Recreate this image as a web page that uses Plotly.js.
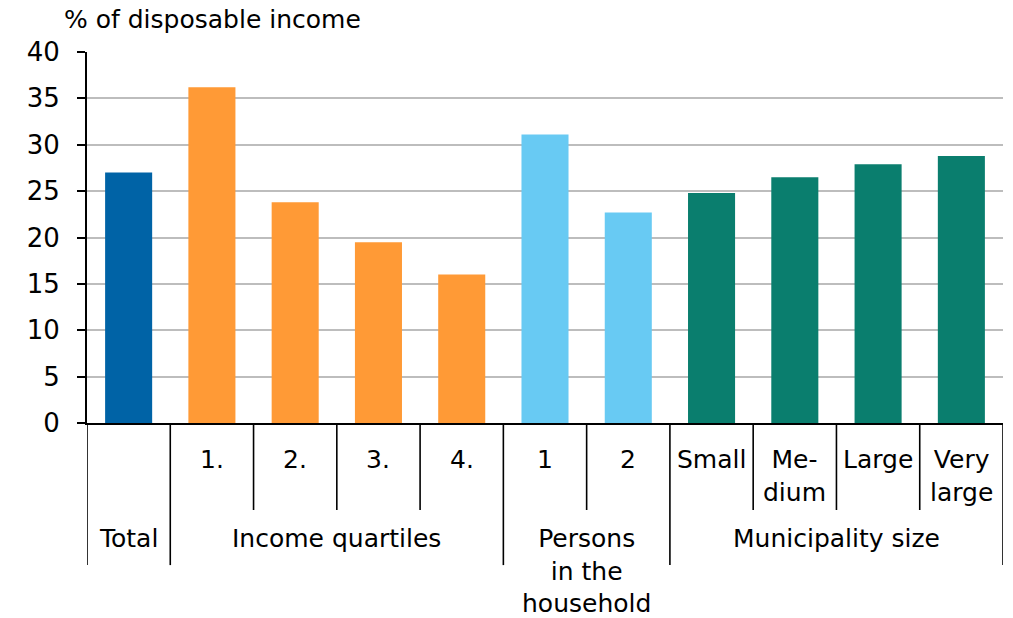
<!DOCTYPE html>
<html>
<head>
<meta charset="utf-8">
<script src="https://cdn.plot.ly/plotly-3.0.1.min.js"></script>
<style>html,body{margin:0;padding:0;background:#fff;}#chart{width:1013px;height:618px;}</style>
</head>
<body>
<div id="chart"></div>
<script>
// ---- data ----
const categories = ['Total', 'Q1', 'Q2', 'Q3', 'Q4', 'P1', 'P2', 'Small', 'Medium', 'Large', 'Very large'];
const tickLabels = ['', '1.', '2.', '3.', '4.', '1', '2', 'Small', 'Me-<br>dium', 'Large', 'Very<br>large'];
const values = [27.0, 36.2, 23.8, 19.5, 16.0, 31.1, 22.7, 24.8, 26.5, 27.9, 28.8];
const groupKeys = ['total', 'quartile', 'quartile', 'quartile', 'quartile', 'persons', 'persons', 'muni', 'muni', 'muni', 'muni'];
const groupNames = ['Total', 'Income quartiles', 'Persons<br>in the<br>household', 'Municipality size'];
const groupStart = [0, 1, 5, 7];
const groupEnd = [0, 4, 6, 10];
const groupColors = {total: '#0063A6', quartile: '#FF9A36', persons: '#68CAF3', muni: '#0A7E6E'};
const yTicks = [0, 5, 10, 15, 20, 25, 30, 35, 40];
const yTitle = '% of disposable income';

const FONT = 'DejaVu Sans, Verdana, sans-serif';
const FS = 25;
const trace = {
  type: 'bar',
  x: categories,
  y: values,
  marker: {color: groupKeys.map(k => groupColors[k]), line: {width: 0}},
  hoverinfo: 'x+y'
};

const rowBottomInner = -0.2345;
const rowBottomOuter = -0.383;
const shapes = [];
const annotations = [];
for (let i = 1; i < categories.length; i++) {
  const isGroupBoundary = groupStart.includes(i);
  shapes.push({type: 'line', xref: 'x', yref: 'paper', x0: i - 0.5, x1: i - 0.5, y0: 0,
    y1: isGroupBoundary ? rowBottomOuter : rowBottomInner, line: {color: '#000', width: 1.6}});
}
shapes.push({type: 'line', xref: 'x', yref: 'paper', x0: -0.5, x1: -0.5, y0: 0, y1: rowBottomOuter, line: {color: '#000', width: 1.6}});
shapes.push({type: 'line', xref: 'x', yref: 'paper', x0: categories.length - 0.5, x1: categories.length - 0.5, y0: 0, y1: rowBottomOuter, line: {color: '#000', width: 1.6}});

tickLabels.forEach((t, i) => {
  if (!t) return;
  annotations.push({xref: 'x', yref: 'paper', x: i, y: -0.055, yanchor: 'top', xanchor: 'center',
    text: t, showarrow: false, font: {family: FONT, size: FS, color: '#000'}});
});
groupNames.forEach((g, j) => {
  annotations.push({xref: 'x', yref: 'paper', x: (groupStart[j] + groupEnd[j]) / 2, y: -0.267, yanchor: 'top', xanchor: 'center',
    text: g, showarrow: false, font: {family: FONT, size: FS, color: '#000'}});
});
annotations.push({xref: 'paper', yref: 'paper', x: -0.027, y: 1.088, xanchor: 'left', yanchor: 'middle',
  text: yTitle, showarrow: false, font: {family: FONT, size: FS, color: '#000'}});

const layout = {
  width: 1013, height: 618,
  margin: {l: 87, r: 10, t: 52, b: 195, pad: 0},
  paper_bgcolor: '#fff', plot_bgcolor: '#fff',
  showlegend: false,
  bargap: 0.435,
  font: {family: FONT, size: FS, color: '#000'},
  xaxis: {type: 'category', showticklabels: false, ticks: '', showgrid: false, zeroline: false,
    showline: true, linecolor: '#000', linewidth: 2, range: [-0.5, categories.length - 0.5], fixedrange: true},
  yaxis: {range: [0, 40], tickvals: yTicks, ticktext: yTicks.map(String), ticks: 'outside', ticklen: 8, tickwidth: 2,
    tickcolor: '#000', showline: true, linecolor: '#000', linewidth: 2, showgrid: true, gridcolor: '#BDBDBD', gridwidth: 2,
    zeroline: false, ticklabelstandoff: 12, tickfont: {family: FONT, size: 26, color: '#000'}, fixedrange: true},
  shapes: shapes,
  annotations: annotations
};
Plotly.newPlot('chart', [trace], layout, {displayModeBar: false, staticPlot: true});
</script>
</body>
</html>
